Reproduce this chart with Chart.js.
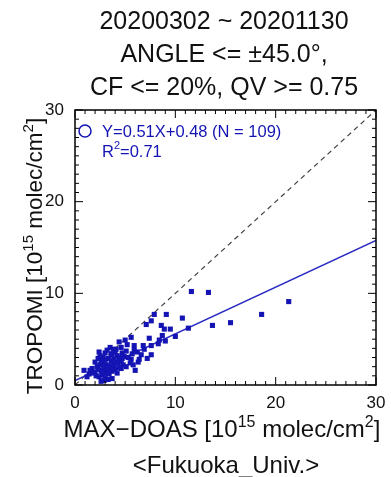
<!DOCTYPE html>
<html>
<head>
<meta charset="utf-8">
<script src="https://cdn.jsdelivr.net/npm/chart.js@4.4.1/dist/chart.umd.min.js"></script>
<style>
  html, body { margin: 0; padding: 0; background: #fff; }
  #scatter { display: block; }
</style>
</head>
<body>
<canvas id="scatter" width="391" height="477"></canvas>
<script>
// data
const titleLines = ["20200302 ~ 20201130", "ANGLE <= \u00b145.0\u00b0,", "CF <= 20%, QV >= 0.75"];
const siteName = "<Fukuoka_Univ.>";
const axisTicks = [0, 10, 20, 30];
const fitSlope = 0.51;
const fitIntercept = 0.48;
const nPoints = 109;
const rSquared = 0.71;

const maxdoas = [
  11.6, 13.3, 21.3, 18.6, 15.5, 13.7, 11.3, 10.7, 9.1, 7.9,
  7.6, 7.1, 8.6, 8.9, 9.5, 7.4, 8.7, 10.0, 9.0, 8.3,
  7.6, 6.8, 7.6, 5.9, 4.4, 5.2, 5.1, 4.7, 5.7, 6.6,
  4.7, 5.6, 6.4, 3.6, 3.4, 4.1, 5.1, 4.6, 6.0, 3.1,
  2.7, 2.2, 1.7, 2.6, 3.1, 3.7, 2.4, 2.9, 2.6, 3.7,
  0.9, 1.4, 2.0, 2.3, 2.5, 2.8, 3.0, 3.2, 3.5, 3.8,
  4.0, 4.2, 4.4, 3.9, 3.6, 3.3, 3.0, 2.7, 2.5, 2.9,
  3.3, 3.6, 3.9, 4.3, 4.6, 4.9, 5.3, 5.5, 5.8, 4.8,
  4.4, 4.0, 3.5, 3.2, 2.8, 2.3, 2.0, 1.8, 1.5, 2.1,
  2.7, 3.4, 4.2, 3.0, 3.3, 4.1, 4.6, 5.0, 5.6, 5.9,
  6.2, 6.3, 6.9, 7.2, 1.2, 2.4, 3.7, 2.6, 8.4
];
const tropomi = [
  10.2, 10.1, 9.1, 7.7, 6.8, 6.5, 6.2, 7.3, 7.7, 7.7,
  7.0, 6.6, 6.5, 6.1, 6.1, 5.1, 5.4, 5.3, 4.8, 4.5,
  4.3, 4.3, 3.3, 4.3, 4.7, 4.4, 3.7, 3.5, 3.4, 3.3,
  2.9, 2.8, 2.8, 3.4, 2.9, 2.5, 2.0, 1.8, 1.6, 2.2,
  2.4, 2.0, 1.8, 1.5, 1.3, 1.5, 0.9, 0.5, 0.4, 0.7,
  1.6, 1.2, 2.5, 2.9, 3.2, 3.0, 3.5, 3.8, 4.1, 3.9,
  3.6, 3.2, 3.0, 2.8, 2.6, 2.9, 2.7, 2.8, 2.2, 1.9,
  2.1, 2.0, 2.2, 2.4, 2.6, 3.1, 3.0, 2.4, 2.2, 2.2,
  1.9, 1.7, 1.7, 1.8, 1.6, 1.7, 1.4, 1.3, 1.6, 1.0,
  1.1, 1.2, 1.3, 0.8, 0.6, 3.9, 4.1, 4.9, 5.2, 3.8,
  3.6, 2.5, 3.9, 2.9, 0.9, 3.6, 3.3, 2.6, 4.9
];

const blue = '#1414b4';
const font = '"Liberation Sans", Arial, Helvetica, sans-serif';

const points = maxdoas.map((x, i) => ({ x: x, y: tropomi[i] }));
const lo = axisTicks[0], hi = axisTicks[axisTicks.length - 1];

// text with superscripts, parts = [[text, isSup], ...]
function richText(ctx, parts, x, y, size) {
  const supSize = Math.round(size * 0.66);
  let w = 0;
  parts.forEach(p => {
    ctx.font = (p[1] ? supSize : size) + 'px ' + font;
    w += ctx.measureText(p[0]).width;
  });
  let cx = x - w / 2;
  ctx.textAlign = 'left';
  ctx.textBaseline = 'alphabetic';
  parts.forEach(p => {
    ctx.font = (p[1] ? supSize : size) + 'px ' + font;
    ctx.fillText(p[0], cx, p[1] ? y - size * 0.42 : y);
    cx += ctx.measureText(p[0]).width;
  });
}

const decorations = {
  id: 'decorations',
  afterDraw(chart) {
    const ctx = chart.ctx;
    const a = chart.chartArea;
    const xs = chart.scales.x, ys = chart.scales.y;
    ctx.save();
    ctx.strokeStyle = '#000';
    ctx.fillStyle = '#111';

    // frame
    ctx.lineWidth = 1.5;
    ctx.strokeRect(a.left, a.top, a.right - a.left, a.bottom - a.top);

    // inward ticks on all four sides
    ctx.lineWidth = 1;
    ctx.beginPath();
    for (let v = lo; v <= hi; v++) {
      const major = v % 10 === 0;
      const len = major ? 8 : 4;
      const px = xs.getPixelForValue(v);
      const py = ys.getPixelForValue(v);
      ctx.moveTo(px, a.bottom); ctx.lineTo(px, a.bottom - len);
      ctx.moveTo(px, a.top); ctx.lineTo(px, a.top + len);
      ctx.moveTo(a.left, py); ctx.lineTo(a.left + len, py);
      ctx.moveTo(a.right, py); ctx.lineTo(a.right - len, py);
    }
    ctx.stroke();

    // tick labels
    ctx.font = '17px ' + font;
    ctx.textAlign = 'center';
    ctx.textBaseline = 'middle';
    axisTicks.forEach(v => ctx.fillText(String(v), xs.getPixelForValue(v), 403));
    ctx.textAlign = 'right';
    axisTicks.forEach(v => ctx.fillText(String(v), 64, ys.getPixelForValue(v)));

    // title
    ctx.textAlign = 'center';
    ctx.textBaseline = 'middle';
    ctx.font = '25px ' + font;
    titleLines.forEach((t, i) => ctx.fillText(t, 224, 22 + i * 33));

    // axis titles
    richText(ctx, [['MAX\u2212DOAS [10', false], ['15', true], [' molec/cm', false], ['2', true], [']', false]], 222, 437, 24);
    ctx.textAlign = 'center';
    ctx.textBaseline = 'middle';
    ctx.font = '24px ' + font;
    ctx.fillText(siteName, 226, 466);

    ctx.save();
    ctx.translate(42, 256);
    ctx.rotate(-Math.PI / 2);
    richText(ctx, [['TROPOMI [10', false], ['15', true], [' molec/cm', false], ['2', true], [']', false]], 0, 0, 22.5);
    ctx.restore();

    // fit legend
    ctx.strokeStyle = blue;
    ctx.lineWidth = 1.5;
    ctx.beginPath();
    ctx.arc(85, 131, 6, 0, Math.PI * 2);
    ctx.stroke();
    ctx.fillStyle = blue;
    ctx.textAlign = 'left';
    ctx.textBaseline = 'middle';
    ctx.font = '16.5px ' + font;
    ctx.fillText('Y=' + fitSlope.toFixed(2) + 'X+' + fitIntercept.toFixed(2) + ' (N = ' + nPoints + ')', 102, 132);
    ctx.fillText('R', 102, 152);
    const rw = ctx.measureText('R').width;
    ctx.font = '11px ' + font;
    ctx.fillText('2', 102 + rw, 146);
    const sw = ctx.measureText('2').width;
    ctx.font = '16.5px ' + font;
    ctx.fillText('=' + rSquared.toFixed(2), 102 + rw + sw, 152);
    ctx.restore();
  }
};

new Chart(document.getElementById('scatter'), {
  type: 'scatter',
  data: {
    datasets: [
      {
        label: 'obs',
        data: points,
        pointStyle: 'rect',
        pointRadius: 3.6,
        pointBorderWidth: 0,
        backgroundColor: blue,
        borderColor: blue,
        order: 0,
      },
      {
        label: 'fit',
        data: [{ x: lo, y: fitSlope * lo + fitIntercept }, { x: hi, y: fitSlope * hi + fitIntercept }],
        showLine: true,
        pointRadius: 0,
        borderColor: '#2a2ac4',
        borderWidth: 1.5,
        order: 1,
      },
      {
        label: '1:1',
        data: [{ x: lo, y: lo }, { x: hi, y: hi }],
        showLine: true,
        pointRadius: 0,
        borderColor: '#444',
        borderWidth: 1.2,
        borderDash: [5, 4],
        order: 2,
      },
    ],
  },
  options: {
    responsive: false,
    animation: false,
    layout: { padding: { left: 75, right: 15, top: 110, bottom: 92 } },
    plugins: { legend: { display: false }, tooltip: { enabled: false } },
    scales: {
      x: { type: 'linear', min: lo, max: hi, display: false },
      y: { type: 'linear', min: lo, max: hi, display: false },
    },
  },
  plugins: [decorations],
});
</script>
</body>
</html>
